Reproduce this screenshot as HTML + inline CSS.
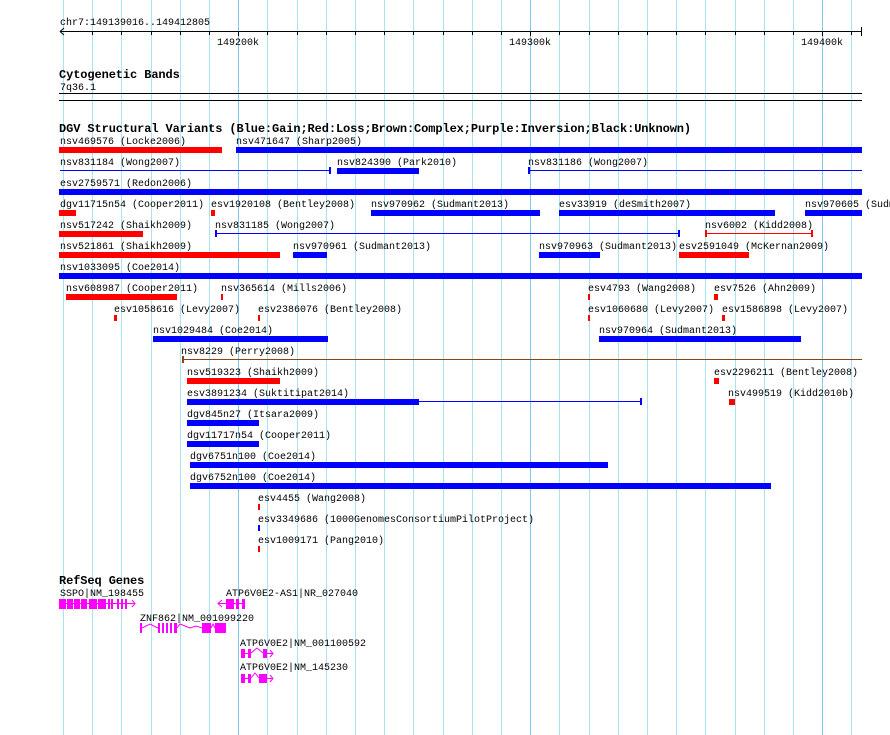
<!DOCTYPE html>
<html><head><meta charset="utf-8"><style>
html,body{margin:0;padding:0;background:#fff;}
svg{display:block;}
text{font-family:"Liberation Mono",monospace;font-size:10px;fill:#000;}
.b{font-weight:bold;font-size:12px;letter-spacing:-0.1px;}
</style></head><body>
<svg width="890" height="735" xmlns="http://www.w3.org/2000/svg">
<g id="grid" stroke-width="1">
<line x1="63.5" y1="0" x2="63.5" y2="735" stroke="#a8e4ee"/>
<line x1="92.5" y1="0" x2="92.5" y2="735" stroke="#a8e4ee"/>
<line x1="121.5" y1="0" x2="121.5" y2="735" stroke="#a8e4ee"/>
<line x1="151.5" y1="0" x2="151.5" y2="735" stroke="#a8e4ee"/>
<line x1="180.5" y1="0" x2="180.5" y2="735" stroke="#a8e4ee"/>
<line x1="209.5" y1="0" x2="209.5" y2="735" stroke="#a8e4ee"/>
<line x1="238.5" y1="0" x2="238.5" y2="735" stroke="#80c8ee"/>
<line x1="267.5" y1="0" x2="267.5" y2="735" stroke="#a8e4ee"/>
<line x1="297.5" y1="0" x2="297.5" y2="735" stroke="#a8e4ee"/>
<line x1="326.5" y1="0" x2="326.5" y2="735" stroke="#a8e4ee"/>
<line x1="355.5" y1="0" x2="355.5" y2="735" stroke="#a8e4ee"/>
<line x1="384.5" y1="0" x2="384.5" y2="735" stroke="#a8e4ee"/>
<line x1="413.5" y1="0" x2="413.5" y2="735" stroke="#a8e4ee"/>
<line x1="443.5" y1="0" x2="443.5" y2="735" stroke="#a8e4ee"/>
<line x1="472.5" y1="0" x2="472.5" y2="735" stroke="#a8e4ee"/>
<line x1="501.5" y1="0" x2="501.5" y2="735" stroke="#a8e4ee"/>
<line x1="530.5" y1="0" x2="530.5" y2="735" stroke="#80c8ee"/>
<line x1="559.5" y1="0" x2="559.5" y2="735" stroke="#a8e4ee"/>
<line x1="589.5" y1="0" x2="589.5" y2="735" stroke="#a8e4ee"/>
<line x1="618.5" y1="0" x2="618.5" y2="735" stroke="#a8e4ee"/>
<line x1="647.5" y1="0" x2="647.5" y2="735" stroke="#a8e4ee"/>
<line x1="676.5" y1="0" x2="676.5" y2="735" stroke="#a8e4ee"/>
<line x1="705.5" y1="0" x2="705.5" y2="735" stroke="#a8e4ee"/>
<line x1="735.5" y1="0" x2="735.5" y2="735" stroke="#a8e4ee"/>
<line x1="764.5" y1="0" x2="764.5" y2="735" stroke="#a8e4ee"/>
<line x1="793.5" y1="0" x2="793.5" y2="735" stroke="#a8e4ee"/>
<line x1="822.5" y1="0" x2="822.5" y2="735" stroke="#80c8ee"/>
<line x1="851.5" y1="0" x2="851.5" y2="735" stroke="#a8e4ee"/>
</g>
<!-- ruler -->
<text x="60" y="25">chr7:149139016..149412805</text>
<line x1="60" y1="31.5" x2="862" y2="31.5" stroke="#000"/>
<path d="M60 31.5 L64 28 M60 31.5 L64 35" stroke="#000" fill="none"/>
<g stroke="#000">
<line x1="92.5" y1="31" x2="92.5" y2="35"/><line x1="121.5" y1="31" x2="121.5" y2="35"/><line x1="151.5" y1="31" x2="151.5" y2="35"/><line x1="180.5" y1="31" x2="180.5" y2="35"/><line x1="209.5" y1="31" x2="209.5" y2="35"/><line x1="238.5" y1="31" x2="238.5" y2="36"/><line x1="267.5" y1="31" x2="267.5" y2="35"/><line x1="297.5" y1="31" x2="297.5" y2="35"/><line x1="326.5" y1="31" x2="326.5" y2="35"/><line x1="355.5" y1="31" x2="355.5" y2="35"/><line x1="384.5" y1="31" x2="384.5" y2="35"/><line x1="413.5" y1="31" x2="413.5" y2="35"/><line x1="443.5" y1="31" x2="443.5" y2="35"/><line x1="472.5" y1="31" x2="472.5" y2="35"/><line x1="501.5" y1="31" x2="501.5" y2="35"/><line x1="530.5" y1="31" x2="530.5" y2="36"/><line x1="559.5" y1="31" x2="559.5" y2="35"/><line x1="589.5" y1="31" x2="589.5" y2="35"/><line x1="618.5" y1="31" x2="618.5" y2="35"/><line x1="647.5" y1="31" x2="647.5" y2="35"/><line x1="676.5" y1="31" x2="676.5" y2="35"/><line x1="705.5" y1="31" x2="705.5" y2="35"/><line x1="735.5" y1="31" x2="735.5" y2="35"/><line x1="764.5" y1="31" x2="764.5" y2="35"/><line x1="793.5" y1="31" x2="793.5" y2="35"/><line x1="822.5" y1="31" x2="822.5" y2="36"/><line x1="851.5" y1="31" x2="851.5" y2="35"/><line x1="861.5" y1="27" x2="861.5" y2="36"/>
</g>
<text x="217" y="45">149200k</text>
<text x="509" y="45">149300k</text>
<text x="801" y="45">149400k</text>
<!-- cyto -->
<text x="59" y="78" class="b">Cytogenetic Bands</text>
<text x="60" y="90">7q36.1</text>
<line x1="59" y1="93.5" x2="862" y2="93.5" stroke="#000"/>
<line x1="59" y1="100.5" x2="862" y2="100.5" stroke="#000"/>
<!-- DGV -->
<text x="59" y="132" class="b">DGV Structural Variants (Blue:Gain;Red:Loss;Brown:Complex;Purple:Inversion;Black:Unknown)</text>
<g>
<text x="60" y="144">nsv469576 (Locke2006)</text><rect x="59" y="147" width="163" height="6" fill="#f00"/>
<text x="236" y="144">nsv471647 (Sharp2005)</text><rect x="236" y="147" width="626" height="6" fill="#00f"/>

<text x="60" y="165">nsv831184 (Wong2007)</text><line x1="60" y1="170.5" x2="330" y2="170.5" stroke="#00f"/><rect x="329" y="167" width="2" height="7" fill="#00f"/>
<text x="337" y="165">nsv824390 (Park2010)</text><rect x="337" y="168" width="82" height="6" fill="#00f"/>
<text x="528" y="165">nsv831186 (Wong2007)</text><line x1="528" y1="170.5" x2="862" y2="170.5" stroke="#00f"/><rect x="528" y="167" width="2" height="7" fill="#00f"/>

<text x="60" y="186">esv2759571 (Redon2006)</text><rect x="59" y="189" width="803" height="6" fill="#00f"/>

<text x="60" y="207">dgv11715n54 (Cooper2011)</text><rect x="59" y="210" width="17" height="6" fill="#f00"/>
<text x="211" y="207">esv1920108 (Bentley2008)</text><rect x="211" y="210" width="4" height="6" fill="#f00"/>
<text x="371" y="207">nsv970962 (Sudmant2013)</text><rect x="371" y="210" width="169" height="6" fill="#00f"/>
<text x="559" y="207">esv33919 (deSmith2007)</text><rect x="559" y="210" width="216" height="6" fill="#00f"/>
<text x="805" y="207">nsv970605 (Sudm</text><rect x="805" y="210" width="57" height="6" fill="#00f"/>

<text x="60" y="228">nsv517242 (Shaikh2009)</text><rect x="59" y="231" width="84" height="6" fill="#f00"/>
<text x="215" y="228">nsv831185 (Wong2007)</text><line x1="215" y1="233.5" x2="680" y2="233.5" stroke="#00f"/><rect x="215" y="230" width="2" height="7" fill="#00f"/><rect x="678" y="230" width="2" height="7" fill="#00f"/>
<text x="705" y="228">nsv6002 (Kidd2008)</text><line x1="705" y1="233.5" x2="812" y2="233.5" stroke="#f00"/><rect x="705" y="230" width="2" height="7" fill="#f00"/><rect x="811" y="230" width="2" height="7" fill="#f00"/>

<text x="60" y="249">nsv521861 (Shaikh2009)</text><rect x="59" y="252" width="221" height="6" fill="#f00"/>
<text x="293" y="249">nsv970961 (Sudmant2013)</text><rect x="293" y="252" width="34" height="6" fill="#00f"/>
<text x="539" y="249">nsv970963 (Sudmant2013)</text><rect x="539" y="252" width="61" height="6" fill="#00f"/>
<text x="679" y="249">esv2591049 (McKernan2009)</text><rect x="679" y="252" width="70" height="6" fill="#f00"/>

<text x="60" y="270">nsv1033095 (Coe2014)</text><rect x="59" y="273" width="803" height="6" fill="#00f"/>

<text x="66" y="291">nsv608987 (Cooper2011)</text><rect x="66" y="294" width="111" height="6" fill="#f00"/>
<text x="221" y="291">nsv365614 (Mills2006)</text><rect x="221" y="294" width="2" height="6" fill="#f00"/>
<text x="588" y="291">esv4793 (Wang2008)</text><rect x="588" y="294" width="2" height="6" fill="#f00"/>
<text x="714" y="291">esv7526 (Ahn2009)</text><rect x="714" y="294" width="4" height="6" fill="#f00"/>

<text x="114" y="312">esv1058616 (Levy2007)</text><rect x="114" y="315" width="3" height="6" fill="#f00"/>
<text x="258" y="312">esv2386076 (Bentley2008)</text><rect x="258" y="315" width="2" height="6" fill="#f00"/>
<text x="588" y="312">esv1060680 (Levy2007)</text><rect x="588" y="315" width="2" height="6" fill="#f00"/>
<text x="722" y="312">esv1586898 (Levy2007)</text><rect x="722" y="315" width="3" height="6" fill="#f00"/>

<text x="153" y="333">nsv1029484 (Coe2014)</text><rect x="153" y="336" width="175" height="6" fill="#00f"/>
<text x="599" y="333">nsv970964 (Sudmant2013)</text><rect x="599" y="336" width="202" height="6" fill="#00f"/>

<text x="181" y="354">nsv8229 (Perry2008)</text><line x1="182" y1="359.5" x2="862" y2="359.5" stroke="#8b4513"/><rect x="182" y="356" width="2" height="7" fill="#8b4513"/>

<text x="187" y="375">nsv519323 (Shaikh2009)</text><rect x="187" y="378" width="93" height="6" fill="#f00"/>
<text x="714" y="375">esv2296211 (Bentley2008)</text><rect x="714" y="378" width="5" height="6" fill="#f00"/>

<text x="187" y="396">esv3891234 (Suktitipat2014)</text><rect x="187" y="399" width="232" height="6" fill="#00f"/><line x1="419" y1="401.5" x2="641" y2="401.5" stroke="#00f"/><rect x="640" y="398" width="2" height="7" fill="#00f"/>
<text x="728" y="396">nsv499519 (Kidd2010b)</text><rect x="729" y="399" width="6" height="6" fill="#f00"/>

<text x="187" y="417">dgv845n27 (Itsara2009)</text><rect x="187" y="420" width="72" height="6" fill="#00f"/>
<text x="187" y="438">dgv11717n54 (Cooper2011)</text><rect x="187" y="441" width="72" height="6" fill="#00f"/>
<text x="190" y="459">dgv6751n100 (Coe2014)</text><rect x="190" y="462" width="418" height="6" fill="#00f"/>
<text x="190" y="480">dgv6752n100 (Coe2014)</text><rect x="190" y="483" width="581" height="6" fill="#00f"/>
<text x="258" y="501">esv4455 (Wang2008)</text><rect x="258" y="504" width="2" height="6" fill="#f00"/>
<text x="258" y="522">esv3349686 (1000GenomesConsortiumPilotProject)</text><rect x="258" y="525" width="2" height="6" fill="#00f"/>
<text x="258" y="543">esv1009171 (Pang2010)</text><rect x="258" y="546" width="2" height="6" fill="#f00"/>
</g>
<!-- RefSeq -->
<text x="59" y="584" class="b">RefSeq Genes</text>
<g fill="#f0f" stroke="#f0f">
<text x="60" y="596" style="fill:#000;stroke:none">SSPO|NM_198455</text>
<line x1="60" y1="603.5" x2="135" y2="603.5"/>
<rect x="59" y="599" width="7" height="10" stroke="none"/><rect x="67" y="599" width="6" height="10" stroke="none"/><rect x="74" y="599" width="6" height="10" stroke="none"/><rect x="81" y="599" width="6" height="10" stroke="none"/><rect x="89" y="599" width="8" height="10" stroke="none"/><rect x="98" y="599" width="8" height="10" stroke="none"/>
<rect x="108" y="599" width="2" height="10" stroke="none"/><rect x="111" y="599" width="2" height="10" stroke="none"/><rect x="117" y="599" width="2" height="10" stroke="none"/><rect x="121" y="599" width="2" height="10" stroke="none"/><rect x="125" y="599" width="2" height="10" stroke="none"/>
<path d="M132 600 L135 603.5 L132 607" fill="none"/>
<text x="226" y="596" style="fill:#000;stroke:none">ATP6V0E2-AS1|NR_027040</text>
<line x1="218" y1="603.5" x2="245" y2="603.5"/><path d="M222 600 L218 603.5 L222 607" fill="none"/>
<rect x="226" y="599" width="8" height="10" stroke="none"/><rect x="236" y="599" width="3" height="10" stroke="none"/><rect x="242" y="599" width="3" height="10" stroke="none"/>
<text x="140" y="621" style="fill:#000;stroke:none">ZNF862|NM_001099220</text>
<rect x="140" y="623" width="2" height="10" stroke="none"/>
<path d="M142 628 L150 624 L158 628 M177 628 L180 624 L190 628 L196 626 L202 628" fill="none"/>
<rect x="158" y="623" width="2" height="10" stroke="none"/><rect x="162" y="623" width="2" height="10" stroke="none"/><rect x="166" y="623" width="2" height="10" stroke="none"/><rect x="170" y="623" width="2" height="10" stroke="none"/><rect x="174" y="623" width="3" height="10" stroke="none"/>
<rect x="202" y="623" width="9" height="10" stroke="none"/><rect x="215" y="623" width="11" height="10" stroke="none"/><path d="M211 628 L213 624 L215 628" fill="none"/>
<text x="240" y="646" style="fill:#000;stroke:none">ATP6V0E2|NM_001100592</text>
<rect x="241" y="649" width="4" height="9" stroke="none"/><rect x="248" y="649" width="3" height="9" stroke="none"/><line x1="245" y1="653.5" x2="248" y2="653.5"/><path d="M251 653 L257 648 L263 653" fill="none"/><rect x="263" y="649" width="4" height="9" stroke="none"/><line x1="267" y1="653.5" x2="273" y2="653.5"/><path d="M270 650 L273 653.5 L270 657" fill="none"/>
<text x="240" y="670" style="fill:#000;stroke:none">ATP6V0E2|NM_145230</text>
<rect x="241" y="674" width="4" height="9" stroke="none"/><rect x="248" y="674" width="3" height="9" stroke="none"/><line x1="245" y1="678.5" x2="248" y2="678.5"/><path d="M251 678 L255 673 L259 678" fill="none"/><rect x="259" y="674" width="8" height="9" stroke="none"/><line x1="267" y1="678.5" x2="273" y2="678.5"/><path d="M270 675 L273 678.5 L270 682" fill="none"/>
</g>
</svg>
</body></html>
